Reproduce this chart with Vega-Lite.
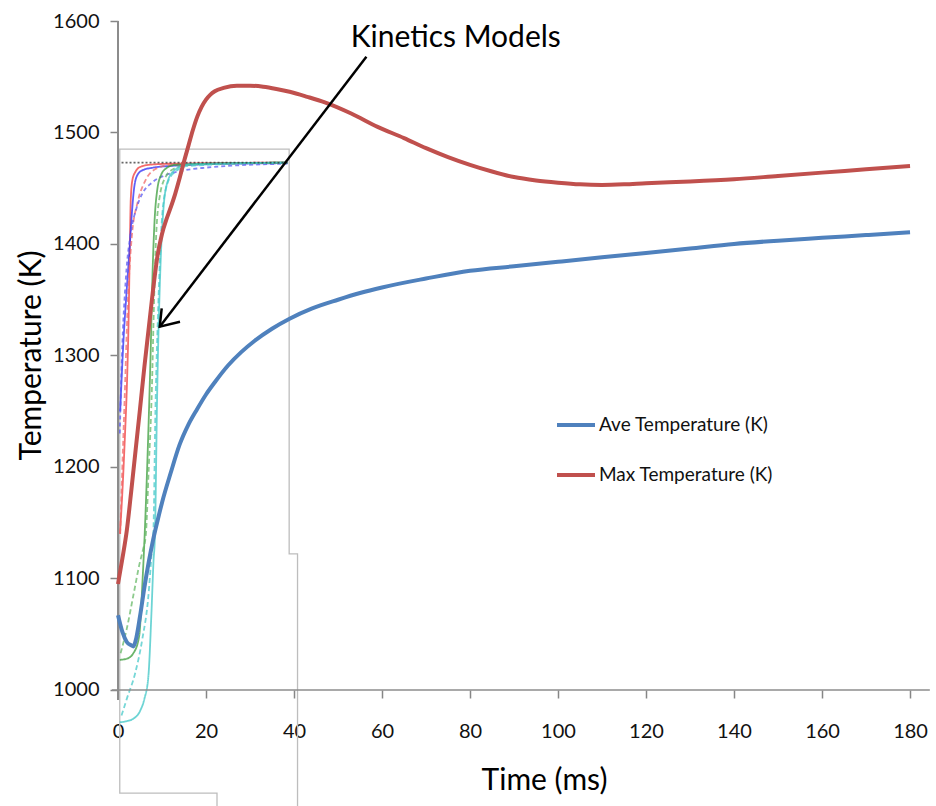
{
  "$schema": "https://vega.github.io/schema/vega-lite/v6.json",
  "width": 818,
  "height": 786,
  "autosize": {"type": "none"},
  "padding": {"left": 118, "top": 21, "right": 0, "bottom": 0},
  "background": "white",
  "config": {"view": {"stroke": null}},
  "datasets": {
    "main": [
      {"series": "Max Temperature (K)", "t": 0, "K": 1095}, {"series": "Max Temperature (K)", "t": 1, "K": 1118}, {"series": "Max Temperature (K)", "t": 2, "K": 1143}, {"series": "Max Temperature (K)", "t": 3, "K": 1178}, {"series": "Max Temperature (K)", "t": 4, "K": 1215}, {"series": "Max Temperature (K)", "t": 5, "K": 1252}, {"series": "Max Temperature (K)", "t": 6, "K": 1290}, {"series": "Max Temperature (K)", "t": 7, "K": 1325}, {"series": "Max Temperature (K)", "t": 8, "K": 1360}, {"series": "Max Temperature (K)", "t": 9, "K": 1390}, {"series": "Max Temperature (K)", "t": 10, "K": 1409}, {"series": "Max Temperature (K)", "t": 11, "K": 1422}, {"series": "Max Temperature (K)", "t": 12, "K": 1433}, {"series": "Max Temperature (K)", "t": 13, "K": 1445}, {"series": "Max Temperature (K)", "t": 14, "K": 1459}, {"series": "Max Temperature (K)", "t": 15, "K": 1474}, {"series": "Max Temperature (K)", "t": 16, "K": 1488}, {"series": "Max Temperature (K)", "t": 17, "K": 1502}, {"series": "Max Temperature (K)", "t": 18, "K": 1514}, {"series": "Max Temperature (K)", "t": 19, "K": 1523}, {"series": "Max Temperature (K)", "t": 20, "K": 1529.5}, {"series": "Max Temperature (K)", "t": 21, "K": 1534}, {"series": "Max Temperature (K)", "t": 22, "K": 1537}, {"series": "Max Temperature (K)", "t": 24, "K": 1540}, {"series": "Max Temperature (K)", "t": 27, "K": 1542}, {"series": "Max Temperature (K)", "t": 30, "K": 1542}, {"series": "Max Temperature (K)", "t": 33, "K": 1541}, {"series": "Max Temperature (K)", "t": 36, "K": 1539}, {"series": "Max Temperature (K)", "t": 39, "K": 1536.5}, {"series": "Max Temperature (K)", "t": 43, "K": 1532}, {"series": "Max Temperature (K)", "t": 47, "K": 1527}, {"series": "Max Temperature (K)", "t": 53, "K": 1517}, {"series": "Max Temperature (K)", "t": 59, "K": 1505}, {"series": "Max Temperature (K)", "t": 65, "K": 1495}, {"series": "Max Temperature (K)", "t": 70, "K": 1486}, {"series": "Max Temperature (K)", "t": 75, "K": 1478}, {"series": "Max Temperature (K)", "t": 80, "K": 1471}, {"series": "Max Temperature (K)", "t": 85, "K": 1465}, {"series": "Max Temperature (K)", "t": 90, "K": 1460}, {"series": "Max Temperature (K)", "t": 95, "K": 1457}, {"series": "Max Temperature (K)", "t": 100, "K": 1455}, {"series": "Max Temperature (K)", "t": 105, "K": 1453.5}, {"series": "Max Temperature (K)", "t": 110, "K": 1453}, {"series": "Max Temperature (K)", "t": 115, "K": 1453.5}, {"series": "Max Temperature (K)", "t": 120, "K": 1454.5}, {"series": "Max Temperature (K)", "t": 130, "K": 1456}, {"series": "Max Temperature (K)", "t": 140, "K": 1458}, {"series": "Max Temperature (K)", "t": 150, "K": 1461}, {"series": "Max Temperature (K)", "t": 160, "K": 1464}, {"series": "Max Temperature (K)", "t": 170, "K": 1467}, {"series": "Max Temperature (K)", "t": 180, "K": 1470},
      {"series": "Ave Temperature (K)", "t": 0, "K": 1067}, {"series": "Ave Temperature (K)", "t": 1, "K": 1052}, {"series": "Ave Temperature (K)", "t": 2, "K": 1043}, {"series": "Ave Temperature (K)", "t": 3, "K": 1040}, {"series": "Ave Temperature (K)", "t": 3.5, "K": 1039}, {"series": "Ave Temperature (K)", "t": 4, "K": 1044}, {"series": "Ave Temperature (K)", "t": 5, "K": 1066}, {"series": "Ave Temperature (K)", "t": 6, "K": 1092}, {"series": "Ave Temperature (K)", "t": 7, "K": 1115}, {"series": "Ave Temperature (K)", "t": 8, "K": 1135}, {"series": "Ave Temperature (K)", "t": 9, "K": 1152}, {"series": "Ave Temperature (K)", "t": 10, "K": 1168}, {"series": "Ave Temperature (K)", "t": 12, "K": 1195}, {"series": "Ave Temperature (K)", "t": 14, "K": 1220}, {"series": "Ave Temperature (K)", "t": 16, "K": 1238}, {"series": "Ave Temperature (K)", "t": 18, "K": 1252}, {"series": "Ave Temperature (K)", "t": 20, "K": 1265}, {"series": "Ave Temperature (K)", "t": 22, "K": 1276}, {"series": "Ave Temperature (K)", "t": 25, "K": 1291}, {"series": "Ave Temperature (K)", "t": 28, "K": 1303}, {"series": "Ave Temperature (K)", "t": 31, "K": 1313}, {"series": "Ave Temperature (K)", "t": 35, "K": 1324}, {"series": "Ave Temperature (K)", "t": 39, "K": 1333}, {"series": "Ave Temperature (K)", "t": 44, "K": 1342}, {"series": "Ave Temperature (K)", "t": 50, "K": 1350}, {"series": "Ave Temperature (K)", "t": 55, "K": 1356}, {"series": "Ave Temperature (K)", "t": 60, "K": 1361}, {"series": "Ave Temperature (K)", "t": 70, "K": 1369}, {"series": "Ave Temperature (K)", "t": 80, "K": 1376}, {"series": "Ave Temperature (K)", "t": 90, "K": 1380}, {"series": "Ave Temperature (K)", "t": 100, "K": 1384}, {"series": "Ave Temperature (K)", "t": 110, "K": 1388}, {"series": "Ave Temperature (K)", "t": 120, "K": 1392}, {"series": "Ave Temperature (K)", "t": 130, "K": 1396}, {"series": "Ave Temperature (K)", "t": 140, "K": 1400}, {"series": "Ave Temperature (K)", "t": 150, "K": 1403}, {"series": "Ave Temperature (K)", "t": 160, "K": 1405.5}, {"series": "Ave Temperature (K)", "t": 170, "K": 1408}, {"series": "Ave Temperature (K)", "t": 180, "K": 1410.5}
    ],
    "inset": [
      {"series": "red solid", "t": 0.45, "K": 1140}, {"series": "red solid", "t": 1.0, "K": 1178}, {"series": "red solid", "t": 1.6, "K": 1230}, {"series": "red solid", "t": 2.0, "K": 1270}, {"series": "red solid", "t": 2.4, "K": 1330}, {"series": "red solid", "t": 2.7, "K": 1400}, {"series": "red solid", "t": 2.9, "K": 1440}, {"series": "red solid", "t": 3.3, "K": 1458}, {"series": "red solid", "t": 4.0, "K": 1465}, {"series": "red solid", "t": 5, "K": 1469}, {"series": "red solid", "t": 7, "K": 1471}, {"series": "red solid", "t": 12, "K": 1472}, {"series": "red solid", "t": 38.5, "K": 1473},
      {"series": "blue solid", "t": 0.5, "K": 1250}, {"series": "blue solid", "t": 1.2, "K": 1310}, {"series": "blue solid", "t": 2.0, "K": 1360}, {"series": "blue solid", "t": 2.7, "K": 1400}, {"series": "blue solid", "t": 3.2, "K": 1430}, {"series": "blue solid", "t": 3.6, "K": 1448}, {"series": "blue solid", "t": 4.3, "K": 1461}, {"series": "blue solid", "t": 5.5, "K": 1466}, {"series": "blue solid", "t": 8, "K": 1468.5}, {"series": "blue solid", "t": 12, "K": 1470}, {"series": "blue solid", "t": 20, "K": 1471.5}, {"series": "blue solid", "t": 38.5, "K": 1472.5},
      {"series": "red dashed", "t": 0.5, "K": 1140}, {"series": "red dashed", "t": 0.9, "K": 1190}, {"series": "red dashed", "t": 1.5, "K": 1260}, {"series": "red dashed", "t": 2.2, "K": 1345}, {"series": "red dashed", "t": 3.1, "K": 1405}, {"series": "red dashed", "t": 4.5, "K": 1438}, {"series": "red dashed", "t": 6.1, "K": 1456}, {"series": "red dashed", "t": 8.4, "K": 1467}, {"series": "red dashed", "t": 12, "K": 1471}, {"series": "red dashed", "t": 38.5, "K": 1473},
      {"series": "blue dashed", "t": 0.4, "K": 1230}, {"series": "blue dashed", "t": 0.9, "K": 1300}, {"series": "blue dashed", "t": 1.8, "K": 1370}, {"series": "blue dashed", "t": 2.9, "K": 1410}, {"series": "blue dashed", "t": 4.2, "K": 1432}, {"series": "blue dashed", "t": 5.5, "K": 1445}, {"series": "blue dashed", "t": 7.7, "K": 1455}, {"series": "blue dashed", "t": 11, "K": 1462}, {"series": "blue dashed", "t": 15, "K": 1466}, {"series": "blue dashed", "t": 20, "K": 1468.5}, {"series": "blue dashed", "t": 27, "K": 1470.5}, {"series": "blue dashed", "t": 38.5, "K": 1472},
      {"series": "green solid", "t": 0.4, "K": 1027}, {"series": "green solid", "t": 2, "K": 1028}, {"series": "green solid", "t": 3.5, "K": 1033}, {"series": "green solid", "t": 4.8, "K": 1048}, {"series": "green solid", "t": 5.6, "K": 1100}, {"series": "green solid", "t": 6.1, "K": 1143}, {"series": "green solid", "t": 6.8, "K": 1220}, {"series": "green solid", "t": 7.4, "K": 1300}, {"series": "green solid", "t": 7.9, "K": 1380}, {"series": "green solid", "t": 8.3, "K": 1420}, {"series": "green solid", "t": 8.9, "K": 1448}, {"series": "green solid", "t": 9.8, "K": 1462}, {"series": "green solid", "t": 11, "K": 1468}, {"series": "green solid", "t": 13, "K": 1471}, {"series": "green solid", "t": 38.5, "K": 1473},
      {"series": "green dashed", "t": 0.6, "K": 1033}, {"series": "green dashed", "t": 2, "K": 1055}, {"series": "green dashed", "t": 3.5, "K": 1085}, {"series": "green dashed", "t": 5.0, "K": 1115}, {"series": "green dashed", "t": 5.7, "K": 1126}, {"series": "green dashed", "t": 6.3, "K": 1138}, {"series": "green dashed", "t": 7.0, "K": 1200}, {"series": "green dashed", "t": 7.7, "K": 1270}, {"series": "green dashed", "t": 8.2, "K": 1350}, {"series": "green dashed", "t": 8.7, "K": 1410}, {"series": "green dashed", "t": 9.5, "K": 1443}, {"series": "green dashed", "t": 10.8, "K": 1460}, {"series": "green dashed", "t": 12.5, "K": 1467}, {"series": "green dashed", "t": 16, "K": 1471}, {"series": "green dashed", "t": 38.5, "K": 1473},
      {"series": "cyan solid", "t": 0.4, "K": 971}, {"series": "cyan solid", "t": 2, "K": 972}, {"series": "cyan solid", "t": 3.4, "K": 974}, {"series": "cyan solid", "t": 5.0, "K": 981}, {"series": "cyan solid", "t": 6.0, "K": 992}, {"series": "cyan solid", "t": 6.9, "K": 1012}, {"series": "cyan solid", "t": 7.6, "K": 1069}, {"series": "cyan solid", "t": 8.05, "K": 1114}, {"series": "cyan solid", "t": 8.4, "K": 1140}, {"series": "cyan solid", "t": 8.9, "K": 1265}, {"series": "cyan solid", "t": 9.8, "K": 1395}, {"series": "cyan solid", "t": 10.3, "K": 1430}, {"series": "cyan solid", "t": 11.2, "K": 1455}, {"series": "cyan solid", "t": 12.8, "K": 1466}, {"series": "cyan solid", "t": 16, "K": 1471.5}, {"series": "cyan solid", "t": 38.5, "K": 1473},
      {"series": "cyan dashed", "t": 0.8, "K": 977}, {"series": "cyan dashed", "t": 2, "K": 992}, {"series": "cyan dashed", "t": 3.9, "K": 1015}, {"series": "cyan dashed", "t": 5.5, "K": 1045}, {"series": "cyan dashed", "t": 6.9, "K": 1084}, {"series": "cyan dashed", "t": 7.6, "K": 1120}, {"series": "cyan dashed", "t": 8.05, "K": 1143}, {"series": "cyan dashed", "t": 8.5, "K": 1250}, {"series": "cyan dashed", "t": 9.2, "K": 1350}, {"series": "cyan dashed", "t": 9.8, "K": 1410}, {"series": "cyan dashed", "t": 10.8, "K": 1448}, {"series": "cyan dashed", "t": 12.5, "K": 1463}, {"series": "cyan dashed", "t": 16, "K": 1470}, {"series": "cyan dashed", "t": 38.5, "K": 1473},
      {"series": "black dotted", "t": 0.8, "K": 1473}, {"series": "black dotted", "t": 38.5, "K": 1473}
    ],
    "box": [
      {"i": 1, "t": 22.5, "K": 895}, {"i": 2, "t": 22.5, "K": 907.4}, {"i": 3, "t": 0.4, "K": 907.4}, {"i": 4, "t": 0.4, "K": 1485}, {"i": 5, "t": 38.9, "K": 1485}, {"i": 6, "t": 38.9, "K": 1122}, {"i": 7, "t": 40.8, "K": 1122}, {"i": 8, "t": 40.8, "K": 895}
    ],
    "arrowhead": [
      {"i": 1, "t": 14.09, "K": 1330.3}, {"i": 2, "t": 9.48, "K": 1325.8}, {"i": 3, "t": 9.93, "K": 1342.3}
    ],
    "arrow": [{"t": 9.48, "K": 1325.8, "t2": 56.45, "K2": 1568}],
    "label": [{"text": "Kinetics Models", "t": 76.75, "K": 1584.8}],
    "yline": [{"t": 0, "K": 991, "K2": 1600}],
    "xline": [{"K": 1000, "t": -1.4, "t2": 184.5}]
  },
  "layer": [
    {
      "data": {"name": "box"},
      "mark": {"type": "line", "stroke": "#BDBDBD", "strokeWidth": 1.3},
      "encoding": {
        "x": {"field": "t", "type": "quantitative", "scale": {"domain": [0, 185.9], "nice": false, "zero": false},
          "axis": {"values": [0, 20, 40, 60, 80, 100, 120, 140, 160, 180], "format": "d", "domain": false, "grid": false, "offset": -117,
            "tickColor": "#868686", "tickSize": 8, "tickWidth": 1.5, "labelFlush": false, "labelOverlap": false,
            "labelFont": "Lato", "labelFontSize": 20, "labelColor": "#111111", "labelPadding": 23,
            "title": "Time (ms)", "titleFont": "Lato", "titleFontSize": 30, "titleFontWeight": "normal", "titleColor": "#000000",
            "titleX": 426, "titleY": 90, "titleBaseline": "middle", "titleAlign": "center"}},
        "y": {"field": "K", "type": "quantitative", "scale": {"domain": [895, 1600], "nice": false, "zero": false},
          "axis": {"values": [1000, 1100, 1200, 1300, 1400, 1500, 1600], "format": "d", "domain": false, "grid": false,
            "tickColor": "#868686", "tickSize": 8, "tickWidth": 1.5, "labelFlush": false, "labelOverlap": false,
            "labelFont": "Lato", "labelFontSize": 20, "labelColor": "#111111", "labelPadding": 11,
            "title": "Temperature (K)", "titleFont": "Lato", "titleFontSize": 30, "titleFontWeight": "normal", "titleColor": "#000000",
            "titleX": -87, "titleY": 334, "titleBaseline": "middle", "titleAlign": "center", "titleAngle": -90}},
        "order": {"field": "i", "type": "quantitative"}
      }
    },
    {
      "data": {"name": "inset"},
      "mark": {"type": "line", "strokeWidth": 1.8, "opacity": 0.75, "interpolate": "monotone"},
      "encoding": {
        "x": {"field": "t", "type": "quantitative"},
        "y": {"field": "K", "type": "quantitative"},
        "color": {"field": "series", "type": "nominal", "legend": null,
          "scale": {"domain": ["red solid", "blue solid", "red dashed", "blue dashed", "green solid", "green dashed", "cyan solid", "cyan dashed", "black dotted"],
            "range": ["#F03A3A", "#2A2AF5", "#F06A6A", "#5A5AF0", "#3A9C3A", "#66B866", "#3CC6C6", "#48CACA", "#333333"]}},
        "strokeDash": {"field": "series", "type": "nominal", "legend": null,
          "scale": {"domain": ["red solid", "blue solid", "red dashed", "blue dashed", "green solid", "green dashed", "cyan solid", "cyan dashed", "black dotted"],
            "range": [[1, 0], [1, 0], [5, 3], [4, 3], [1, 0], [5, 3], [1, 0], [5, 3], [2, 2]]}}
      }
    },
    {
      "data": {"name": "yline"},
      "mark": {"type": "rule", "stroke": "#8C8C8C", "strokeWidth": 2},
      "encoding": {
        "x": {"field": "t", "type": "quantitative"},
        "y": {"field": "K", "type": "quantitative"},
        "y2": {"field": "K2"}
      }
    },
    {
      "data": {"name": "xline"},
      "mark": {"type": "rule", "stroke": "#8C8C8C", "strokeWidth": 1.5},
      "encoding": {
        "y": {"field": "K", "type": "quantitative"},
        "x": {"field": "t", "type": "quantitative"},
        "x2": {"field": "t2"}
      }
    },
    {
      "data": {"name": "main"},
      "mark": {"type": "line", "strokeWidth": 4, "interpolate": "monotone"},
      "encoding": {
        "x": {"field": "t", "type": "quantitative"},
        "y": {"field": "K", "type": "quantitative"},
        "color": {"field": "series", "type": "nominal",
          "scale": {"domain": ["Ave Temperature (K)", "Max Temperature (K)"], "range": ["#4F81BD", "#C0504D"]},
          "legend": {"orient": "none", "legendX": 437, "legendY": 383, "title": null, "symbolType": "stroke", "symbolSize": 1444,
            "symbolStrokeWidth": 4, "labelFont": "Lato", "labelFontSize": 19, "labelColor": "#111111",
            "labelOffset": 2, "labelLimit": 400, "rowPadding": 19, "padding": 0}}
      }
    },
    {
      "data": {"name": "arrow"},
      "mark": {"type": "rule", "stroke": "#000000", "strokeWidth": 2.5},
      "encoding": {
        "x": {"field": "t", "type": "quantitative"},
        "y": {"field": "K", "type": "quantitative"},
        "x2": {"field": "t2"},
        "y2": {"field": "K2"}
      }
    },
    {
      "data": {"name": "arrowhead"},
      "mark": {"type": "line", "stroke": "#000000", "strokeWidth": 2.5},
      "encoding": {
        "x": {"field": "t", "type": "quantitative"},
        "y": {"field": "K", "type": "quantitative"},
        "order": {"field": "i", "type": "quantitative"}
      }
    },
    {
      "data": {"name": "label"},
      "mark": {"type": "text", "font": "Lato", "fontSize": 30, "color": "#000000", "align": "center", "baseline": "middle"},
      "encoding": {
        "x": {"field": "t", "type": "quantitative"},
        "y": {"field": "K", "type": "quantitative"},
        "text": {"field": "text", "type": "nominal"}
      }
    }
  ],
  "resolve": {"scale": {"color": "independent", "strokeDash": "independent"}}
}
